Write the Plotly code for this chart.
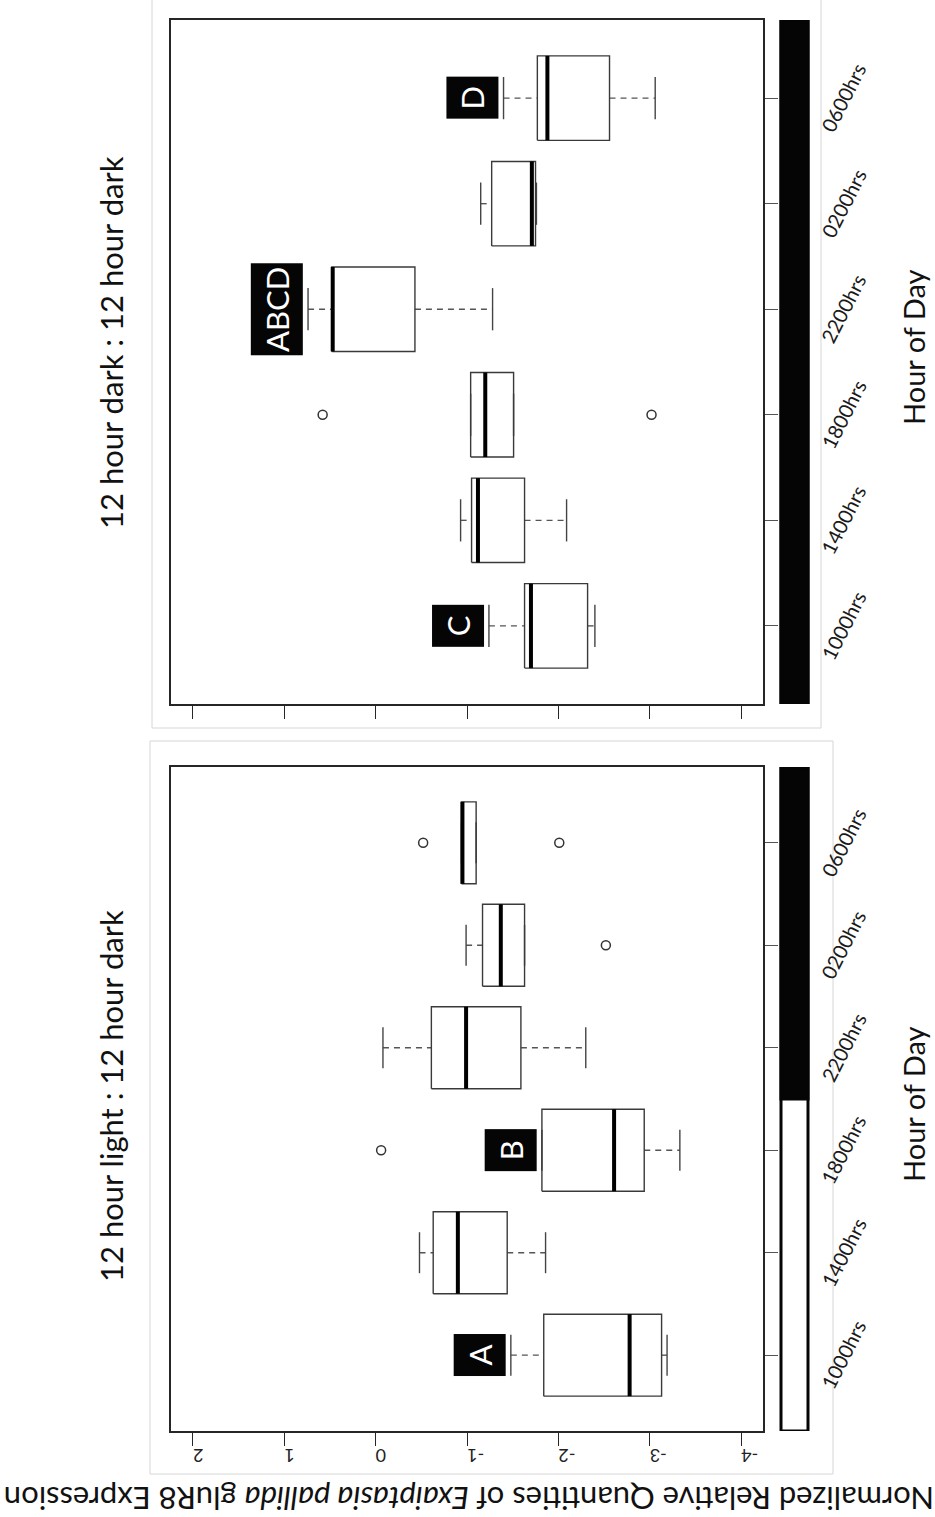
import plotly.graph_objects as go

W, H = 935, 1517

hours = ["1000hrs", "1400hrs", "1800hrs", "2200hrs", "0200hrs", "0600hrs"]
value_ticks = [2, 1, 0, -1, -2, -3, -4]

# 12 hour light : 12 hour dark -- five-number summaries per sampling time
ld_upper = [-1.48, -0.48, -1.82, -0.08, -0.99, -0.94]
ld_q3 = [-1.84, -0.63, -1.82, -0.61, -1.17, -0.94]
ld_median = [-2.78, -0.90, -2.61, -0.99, -1.37, -0.95]
ld_q1 = [-3.13, -1.44, -2.94, -1.59, -1.63, -1.10]
ld_lower = [-3.19, -1.86, -3.33, -2.30, -1.63, -1.10]
ld_outlier_hour = ["1800hrs", "0200hrs", "0600hrs", "0600hrs"]
ld_outlier_value = [-0.06, -2.52, -0.52, -2.01]
ld_letter_hour = ["1000hrs", "1800hrs"]
ld_letter_text = ["A", "B"]
ld_light_slots = 3          # sampling times that fall in the light phase

# 12 hour dark : 12 hour dark
dd_upper = [-1.24, -0.93, -1.04, 0.74, -1.15, -1.40]
dd_q3 = [-1.63, -1.05, -1.04, 0.48, -1.27, -1.77]
dd_median = [-1.70, -1.12, -1.20, 0.47, -1.71, -1.88]
dd_q1 = [-2.32, -1.63, -1.51, -0.43, -1.75, -2.56]
dd_lower = [-2.40, -2.09, -1.51, -1.28, -1.76, -3.06]
dd_outlier_hour = ["1800hrs", "1800hrs"]
dd_outlier_value = [0.58, -3.02]
dd_letter_hour = ["1000hrs", "2200hrs", "0600hrs"]
dd_letter_text = ["C", "ABCD", "D"]
dd_light_slots = 0

FONT = "Lato"
INK = "#262626"
BOX_HALF = 0.4
STAPLE_HALF = 0.2
pos = {h: i + 1 for i, h in enumerate(hours)}
YR = [0.26, 6.74]
XR = [2.24, -4.24]

fig = go.Figure()


def add_boxes(xa, ya, upper, q3, med, q1, lower, out_h, out_v):
    wx, wy, sx, sy, bx, by, mx, my = [], [], [], [], [], [], [], []
    for i in range(len(hours)):
        c = i + 1
        # dashed whiskers
        wx += [upper[i], q3[i], None, q1[i], lower[i], None]
        wy += [c, c, None, c, c, None]
        # staples
        for v in (upper[i], lower[i]):
            sx += [v, v, None]
            sy += [c - STAPLE_HALF, c + STAPLE_HALF, None]
        # box outline
        bx += [q3[i], q1[i], q1[i], q3[i], q3[i], None]
        by += [c - BOX_HALF, c - BOX_HALF, c + BOX_HALF, c + BOX_HALF, c - BOX_HALF, None]
        # median bar
        mx += [med[i], med[i], None]
        my += [c - BOX_HALF, c + BOX_HALF, None]
    common = dict(xaxis=xa, yaxis=ya, mode="lines", hoverinfo="skip", showlegend=False)
    fig.add_trace(go.Scatter(x=wx, y=wy, line=dict(color="#555555", width=1.4, dash="6px,5px"), **common))
    fig.add_trace(go.Scatter(x=sx, y=sy, line=dict(color="#444444", width=1.4), **common))
    fig.add_trace(go.Scatter(x=bx, y=by, line=dict(color="#3a3a3a", width=1.4), **common))
    fig.add_trace(go.Scatter(x=mx, y=my, line=dict(color="#000000", width=4), **common))
    fig.add_trace(go.Scatter(
        x=out_v, y=[pos[h] for h in out_h], xaxis=xa, yaxis=ya, mode="markers",
        marker=dict(symbol="circle-open", size=9, color="#333333", line=dict(width=1.5)),
        hoverinfo="skip", showlegend=False))


add_boxes("x", "y", ld_upper, ld_q3, ld_median, ld_q1, ld_lower, ld_outlier_hour, ld_outlier_value)
add_boxes("x2", "y2", dd_upper, dd_q3, dd_median, dd_q1, dd_lower, dd_outlier_hour, dd_outlier_value)

xdom = [171 / W, 763 / W]
ydom1 = [1 - 1431 / H, 1 - 767 / H]
ydom2 = [1 - 704 / H, 1 - 20 / H]

val_axis = dict(
    domain=xdom, range=XR, tickvals=value_ticks, ticktext=[str(v) for v in value_ticks],
    ticks="outside", ticklen=13, tickwidth=1.4, tickcolor=INK,
    showline=True, mirror=True, linecolor=INK, linewidth=1.5,
    showgrid=False, zeroline=False, fixedrange=True,
    tickfont=dict(family=FONT, size=18, color="#222222"),
)
cat_axis = dict(
    range=YR, tickvals=list(range(1, len(hours) + 1)), showticklabels=False, side="right",
    ticks="outside", ticklen=13, tickwidth=1.4, tickcolor="#555555",
    showline=True, mirror=True, linecolor=INK, linewidth=1.5,
    showgrid=False, zeroline=False, fixedrange=True,
)

fig.update_layout(
    width=W, height=H, margin=dict(l=0, r=0, t=0, b=0),
    paper_bgcolor="white", plot_bgcolor="white",
    xaxis=dict(val_axis, anchor="y", tickangle=180),
    yaxis=dict(cat_axis, domain=ydom1, anchor="x"),
    xaxis2=dict(val_axis, anchor="y2", showticklabels=False),
    yaxis2=dict(cat_axis, domain=ydom2, anchor="x2"),
)

shapes = []
# faint panel borders
for x0, y0, x1, y1 in [(150, 741, 833, 1474), (152, -2, 821, 728)]:
    shapes.append(dict(type="rect", xref="paper", yref="paper",
                       x0=x0 / W, x1=x1 / W, y0=1 - y1 / H, y1=1 - y0 / H,
                       line=dict(color="#d6d6d6", width=1), fillcolor="rgba(0,0,0,0)", layer="below"))

# light / dark bars beside each panel
bar_x0, bar_x1 = (781 - 171) / 592, (808 - 171) / 592
for xa, ya, light in [("x", "y", ld_light_slots), ("x2", "y2", dd_light_slots)]:
    shapes.append(dict(type="rect", xref=f"{xa} domain", yref=ya, x0=bar_x0, x1=bar_x1,
                       y0=YR[0], y1=YR[1], fillcolor="white", line=dict(color="#050505", width=3)))
    shapes.append(dict(type="rect", xref=f"{xa} domain", yref=ya, x0=bar_x0, x1=bar_x1,
                       y0=light + 0.5 if light else YR[0], y1=YR[1],
                       fillcolor="#050505", line=dict(color="#050505", width=3)))
fig.update_layout(shapes=shapes)

ann = []
# slanted hour labels to the right of the light/dark bar
label_x = (843 - 171) / 592
for xa, ya in [("x", "y"), ("x2", "y2")]:
    for h in hours:
        ann.append(dict(text=h, xref=f"{xa} domain", yref=ya, x=label_x, y=pos[h],
                        xanchor="center", yanchor="middle", textangle=-63, showarrow=False,
                        font=dict(family=FONT, size=20, color="#1a1a1a")))

for title, yc in [("12 hour light : 12 hour dark", 1096), ("12 hour dark : 12 hour dark", 343)]:
    ann.append(dict(text=title, xref="paper", yref="paper", x=111 / W, y=1 - yc / H,
                    textangle=-90, showarrow=False, xanchor="center", yanchor="middle",
                    font=dict(family=FONT, size=31, color="#111111")))
for yc in (1104, 347):
    ann.append(dict(text="Hour of Day", xref="paper", yref="paper", x=913 / W, y=1 - yc / H,
                    textangle=-90, showarrow=False, xanchor="center", yanchor="middle",
                    font=dict(family=FONT, size=29, color="#111111")))
ann.append(dict(text="Normalized Relative Quantities of <i>Exaiptasia pallida</i> gluR8 Expression",
                xref="paper", yref="paper", x=469 / W, y=1 - 1499 / H, textangle=180,
                showarrow=False, xanchor="center", yanchor="middle",
                font=dict(family=FONT, size=31, color="#111111")))

for xa, ya, lh, lt, upper in [("x", "y", ld_letter_hour, ld_letter_text, ld_upper),
                              ("x2", "y2", dd_letter_hour, dd_letter_text, dd_upper)]:
    for h, t in zip(lh, lt):
        i = pos[h] - 1
        ann.append(dict(text=t, xref=xa, yref=ya, x=upper[i], y=pos[h], xanchor="right",
                        yanchor="middle", xshift=-5, textangle=-90, showarrow=False,
                        bgcolor="#050505", borderpad=0, borderwidth=0,
                        width=max(42, 23 * len(t)), height=52, align="center", valign="middle",
                        font=dict(family=FONT, size=31, color="white")))
fig.update_layout(annotations=ann)

fig.write_html("out.html")
